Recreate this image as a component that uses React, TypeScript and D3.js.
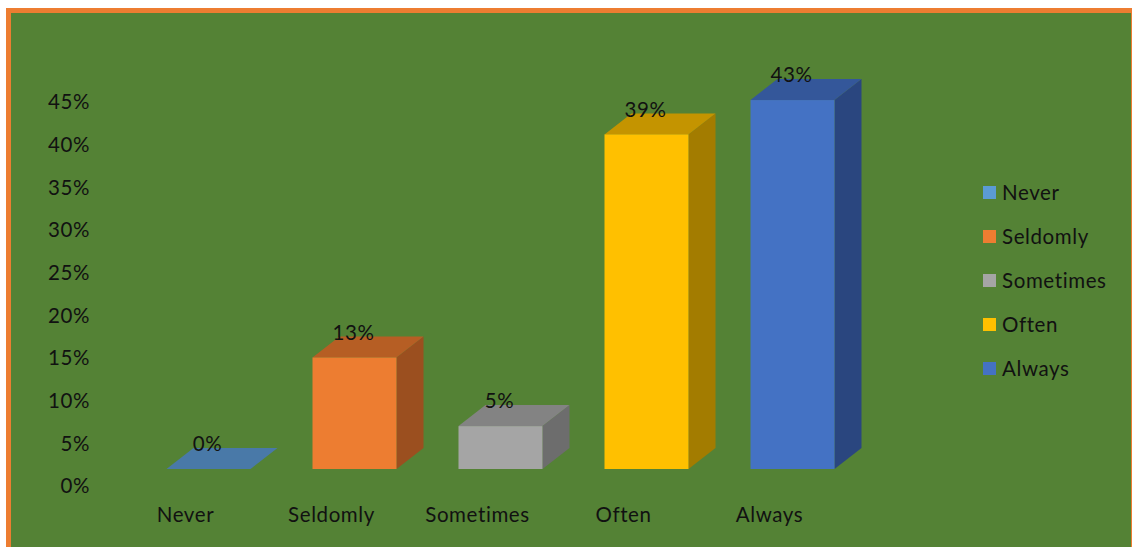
import React from "react";
import * as d3 from "d3";

const categories = ["Never", "Seldomly", "Sometimes", "Often", "Always"];
const values = [0, 0.13, 0.05, 0.39, 0.43];
const labels = ["0%", "13%", "5%", "39%", "43%"];
const yTicks = [0, 0.05, 0.1, 0.15, 0.2, 0.25, 0.3, 0.35, 0.4, 0.45];
const frontColors = ["#5B9BD5", "#ED7D31", "#A5A5A5", "#FFC000", "#4472C4"];
const topColors = ["#4979A8", "#B65E24", "#838383", "#C49400", "#34579A"];
const sideColors = ["#3E6890", "#9B4F1F", "#6D6D6D", "#A37C00", "#2A467F"];

const W = 1132;
const H = 547;
const FONT = "Lato, 'Open Sans', sans-serif";
const FS = 20.5;
const LS = 0.6;

export default function App() {
  const x = d3.scaleBand<string>().domain(categories).range([135.5, 865.5]).padding(0);
  const barW = 84;
  const y = d3.scaleLinear().domain([0, 0.45]).range([469, 82.9]);
  const yLab = d3.scaleLinear().domain([0, 0.45]).range([486, 102]);
  const dx = 27;
  const dy = -21;
  const fmt = d3.format(".0%");

  return (
    <svg width={W} height={H} style={{ position: "absolute", left: 0, top: 0 }}>
      <rect x={8.5} y={10.5} width={1125} height={545} fill="#548235" stroke="#ED7D31" strokeWidth={5} />
      {yTicks.map((t) => (
        <text key={t} x={90} y={yLab(t)} dy="0.35em" textAnchor="end" fontFamily={FONT} fontSize={FS} letterSpacing={LS} fill="#111">
          {fmt(t)}
        </text>
      ))}
      {categories.map((c, i) => {
        const x0 = (x(c) as number) + (x.bandwidth() - barW) / 2;
        const x1 = x0 + barW;
        const y0 = y(0);
        const y1 = y(values[i]);
        const top = `M${x0},${y1} L${x0 + dx},${y1 + dy} L${x1 + dx},${y1 + dy} L${x1},${y1} Z`;
        const side = `M${x1},${y1} L${x1 + dx},${y1 + dy} L${x1 + dx},${y0 + dy} L${x1},${y0} Z`;
        const cx = x0 + barW / 2;
        return (
          <g key={c}>
            {values[i] > 0 && <path d={side} fill={sideColors[i]} />}
            <path d={top} fill={topColors[i]} />
            {values[i] > 0 && <rect x={x0} y={y1} width={barW} height={y0 - y1} fill={frontColors[i]} />}
            <text x={cx - 1} y={y1 + dy - 4} dy="0.35em" textAnchor="middle" fontFamily={FONT} fontSize={FS} letterSpacing={LS} fill="#111">
              {labels[i]}
            </text>
            <text x={cx - 23} y={515} dy="0.35em" textAnchor="middle" fontFamily={FONT} fontSize={FS} letterSpacing={LS} fill="#111">
              {c}
            </text>
          </g>
        );
      })}
      {categories.map((c, i) => (
        <g key={"lg" + c} transform={`translate(983, ${192.5 + i * 44})`}>
          <rect x={0} y={-6.5} width={13} height={13} fill={frontColors[i]} />
          <text x={19} y={0} dy="0.35em" fontFamily={FONT} fontSize={FS} letterSpacing={LS} fill="#111">
            {c}
          </text>
        </g>
      ))}
    </svg>
  );
}
